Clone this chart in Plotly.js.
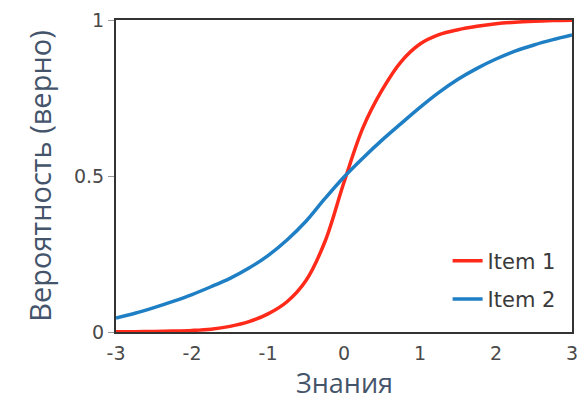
<!DOCTYPE html>
<html>
<head>
<meta charset="utf-8">
<script src="https://cdn.plot.ly/plotly-3.0.1.min.js"></script>
<style>html,body{margin:0;padding:0;background:#fff;}#chart{width:584px;height:403px;}</style>
</head>
<body>
<div id="chart"></div>
<script>
// Ability levels (x)
const knowledge = [-3, -2.75, -2.5, -2.25, -2, -1.75, -1.5, -1.25, -1, -0.75, -0.5, -0.25, 0, 0.25, 0.5, 0.75, 1, 1.25, 1.5, 1.75, 2, 2.25, 2.5, 2.75, 3];
// Probability of correct answer
const item1 = [0.001, 0.001, 0.002, 0.003, 0.005, 0.009, 0.018, 0.033, 0.058, 0.097, 0.165, 0.29, 0.48, 0.655, 0.775, 0.866, 0.923, 0.953, 0.969, 0.98, 0.988, 0.993, 0.996, 0.998, 0.999];
const item2 = [0.045, 0.06, 0.078, 0.098, 0.12, 0.145, 0.172, 0.205, 0.245, 0.295, 0.355, 0.428, 0.497, 0.558, 0.615, 0.668, 0.72, 0.768, 0.81, 0.845, 0.875, 0.9, 0.92, 0.937, 0.952];
const seriesNames = ["Item 1", "Item 2"];
const xTicks = [-3, -2, -1, 0, 1, 2, 3];
const xTickLabels = ["-3", "-2", "-1", "0", "1", "2", "3"];
const yTicks = [0, 0.5, 1];
const yTickLabels = ["0", "0.5", "1"];
const xTitle = "Знания";
const yTitle = "Вероятность (верно)";

const traces = [
  {x: knowledge, y: item1, name: seriesNames[0], type: "scatter", mode: "lines",
   line: {color: "#ff2a1a", width: 3.5, shape: "spline", smoothing: 1}, legendgroup: "a"},
  {x: knowledge, y: item2, name: seriesNames[1], type: "scatter", mode: "lines",
   line: {color: "#1f7fc4", width: 3.5, shape: "spline", smoothing: 1}, legendgroup: "b"}
];

const tickFont = {family: "DejaVu Sans, sans-serif", size: 19, color: "#4a4a4a"};
const titleFont = {family: "Open Sans, Noto Sans, sans-serif", size: 29, color: "#44546a"};
const xTitleFont = {family: "Open Sans, Noto Sans, sans-serif", size: 27, color: "#44546a"};

const layout = {
  width: 584, height: 403,
  margin: {l: 116, r: 12, t: 20, b: 71},
  paper_bgcolor: "#fff", plot_bgcolor: "#fff",
  showlegend: true,
  legend: {x: 0.975, y: 0.04, xanchor: "right", yanchor: "bottom",
    font: {family: "DejaVu Sans, sans-serif", size: 21, color: "#3a3a3a"},
    bgcolor: "rgba(0,0,0,0)", traceorder: "grouped", tracegroupgap: 8, itemwidth: 30},
  xaxis: {range: [-3, 3], tickvals: xTicks, ticktext: xTickLabels, ticks: "outside", ticklen: 3,
    tickcolor: "rgba(0,0,0,0)", showgrid: false, zeroline: false,
    showline: true, mirror: true, linecolor: "#333", linewidth: 2, tickfont: tickFont},
  yaxis: {range: [0, 1], tickvals: yTicks, ticktext: yTickLabels, ticks: "outside", ticklen: 6,
    tickcolor: "#999", showgrid: false, zeroline: false,
    showline: true, mirror: true, linecolor: "#333", linewidth: 2, tickfont: tickFont,
    title: {text: yTitle, font: titleFont, standoff: 14}},
  annotations: [{text: xTitle, xref: "paper", yref: "paper", x: 0.5, y: -0.162,
    xanchor: "center", yanchor: "middle", showarrow: false, borderpad: 0, font: xTitleFont}]
};

Plotly.newPlot("chart", traces, layout, {displayModeBar: false, staticPlot: true});
</script>
</body>
</html>
